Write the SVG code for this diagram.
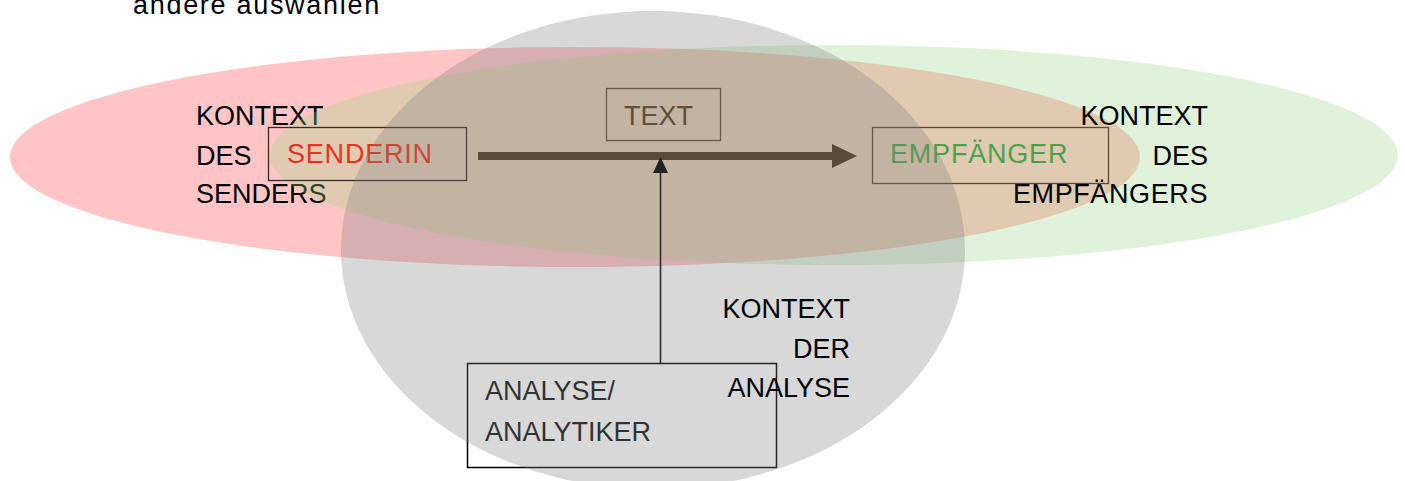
<svg xmlns="http://www.w3.org/2000/svg" width="1405" height="481" viewBox="0 0 1405 481">
<style>
text{font-family:"Liberation Sans",Arial,sans-serif;font-size:27px}
.k{fill:#000}
.r{text-anchor:end}
.w{letter-spacing:0.8px}
</style>
<rect width="1405" height="481" fill="#fff"/>
<text x="133" y="14" class="k" style="letter-spacing:1.7px">andere auswählen</text>
<g id="ctx-sender">
<ellipse cx="575" cy="157" rx="565" ry="110" fill="#ffc5c6"/>
<text class="k"><tspan x="196" y="125">KONTEXT</tspan><tspan x="196" y="165">DES</tspan><tspan x="196" y="203">SENDERS</tspan></text>
</g>
<g id="ctx-receiver-bg">
<ellipse cx="834" cy="155" rx="564" ry="110" fill="rgb(158,213,135)" fill-opacity="0.31"/>
</g>
<g id="senderin">
<rect x="268.5" y="127.5" width="198" height="53" fill="none" stroke="#3c2a22" stroke-width="1.3"/>
<text x="287" y="163" fill="#e8321c" class="w">SENDERIN</text>
</g>
<g id="empfaenger">
<rect x="872.5" y="127.5" width="236" height="56" fill="none" stroke="#5a4838" stroke-width="1.3"/>
<text x="890" y="163" fill="#4aa34a" class="w">EMPFÄNGER</text>
</g>
<g id="analyse">
<rect x="467.5" y="363.5" width="309" height="104" fill="none" stroke="#000" stroke-width="1.5"/>
<text fill="#111"><tspan x="485" y="400">ANALYSE/</tspan><tspan x="485" y="441">ANALYTIKER</tspan></text>
</g>
<g id="ctx-analyse-bg">
<ellipse cx="653" cy="250" rx="312" ry="239" fill="#808080" fill-opacity="0.307"/>
</g>
<g id="text-node">
<rect x="606.5" y="88.5" width="114" height="52" fill="none" stroke="#6b5a47" stroke-width="1.3"/>
<text x="624" y="125" fill="#5f4f3e">TEXT</text>
</g>
<g id="connectors">
<line x1="478" y1="156" x2="834" y2="156" stroke="#5a4a3a" stroke-width="8"/>
<path d="M832,144 L857,156 L832,168 Z" fill="#5a4a3a"/>
<line x1="660.5" y1="363" x2="660.5" y2="170" stroke="#2e2e2e" stroke-width="1.6"/>
<path d="M653,173 L660.5,157 L668,173 Z" fill="#222"/>
</g>
<g id="labels">
<text class="k r"><tspan x="1208" y="125">KONTEXT</tspan><tspan x="1208" y="165">DES</tspan><tspan x="1208" y="203" style="letter-spacing:0.6px">EMPFÄNGERS</tspan></text>
<text class="k r"><tspan x="850" y="318">KONTEXT</tspan><tspan x="850" y="358">DER</tspan><tspan x="850" y="397">ANALYSE</tspan></text>
</g>
</svg>
